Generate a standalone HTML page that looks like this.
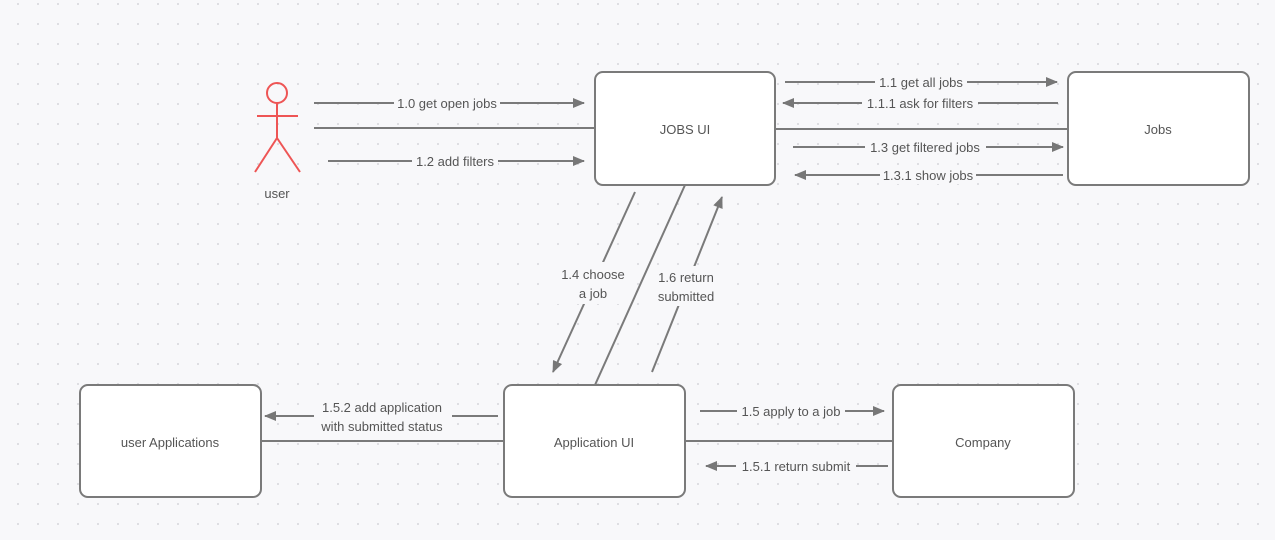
<!DOCTYPE html>
<html><head><meta charset="utf-8"><style>
html,body{margin:0;padding:0;background:#f8f8fa;}
svg{display:block;}
text{font-family:"Liberation Sans",sans-serif;font-size:13px;fill:#555;}
</style></head><body>
<svg width="1275" height="540" viewBox="0 0 1275 540" xmlns="http://www.w3.org/2000/svg">
<defs>
<pattern id="dots" x="8" y="-6" width="20" height="20" patternUnits="userSpaceOnUse">
<circle cx="10" cy="10" r="1" fill="#d6d6da"/>
</pattern>
<marker id="ar" markerWidth="12" markerHeight="10" refX="11" refY="5" orient="auto" markerUnits="userSpaceOnUse" viewBox="0 0 12 10">
<path d="M0,0 L12,5 L0,10 z" fill="#777"/>
</marker>
</defs>
<rect width="1275" height="540" fill="#f8f8fa"/>
<rect width="1275" height="540" fill="url(#dots)"/>
<g stroke="#7a7a7a" stroke-width="2" fill="#fff">
<rect x="595" y="72" width="180" height="113" rx="8"/>
<rect x="1068" y="72" width="181" height="113" rx="8"/>
<rect x="80" y="385" width="181" height="112" rx="8"/>
<rect x="504" y="385" width="181" height="112" rx="8"/>
<rect x="893" y="385" width="181" height="112" rx="8"/>
</g>
<g stroke="#7a7a7a" stroke-width="2" fill="none">
<line x1="314" y1="103" x2="584" y2="103" marker-end="url(#ar)"/>
<line x1="314" y1="128" x2="595" y2="128"/>
<line x1="328" y1="161" x2="584" y2="161" marker-end="url(#ar)"/>
<line x1="785" y1="82" x2="1057" y2="82" marker-end="url(#ar)"/>
<line x1="1058" y1="103" x2="783" y2="103" marker-end="url(#ar)"/>
<line x1="775" y1="129" x2="1068" y2="129"/>
<line x1="793" y1="147" x2="1063" y2="147" marker-end="url(#ar)"/>
<line x1="1063" y1="175" x2="795" y2="175" marker-end="url(#ar)"/>
<line x1="635" y1="192" x2="553" y2="372" marker-end="url(#ar)"/>
<line x1="652" y1="372" x2="722" y2="197" marker-end="url(#ar)"/>
<line x1="498" y1="416" x2="265" y2="416" marker-end="url(#ar)"/>
<line x1="261" y1="441" x2="504" y2="441"/>
<line x1="700" y1="411" x2="884" y2="411" marker-end="url(#ar)"/>
<line x1="685" y1="441" x2="893" y2="441"/>
<line x1="888" y1="466" x2="706" y2="466" marker-end="url(#ar)"/>
</g>
<g fill="#f8f8fa">
<rect x="394" y="94" width="106" height="18"/>
<rect x="412" y="152" width="86" height="18"/>
<rect x="875" y="73" width="92" height="18"/>
<rect x="862" y="94" width="116" height="18"/>
<rect x="865" y="138" width="121" height="18"/>
<rect x="880" y="166" width="96" height="18"/>
<rect x="556" y="262" width="72" height="42"/>
<rect x="654" y="266" width="66" height="40"/>
<rect x="314" y="398" width="138" height="38"/>
<rect x="737" y="402" width="108" height="18"/>
<rect x="736" y="457" width="120" height="18"/>
</g>
<line x1="685" y1="185" x2="595" y2="385" stroke="#7a7a7a" stroke-width="2"/>
<g stroke="#ee5555" stroke-width="2" fill="none">
<circle cx="277" cy="93" r="10"/>
<line x1="277" y1="103" x2="277" y2="138"/>
<line x1="257" y1="116" x2="298" y2="116"/>
<line x1="277" y1="138" x2="255" y2="172"/>
<line x1="277" y1="138" x2="300" y2="172"/>
</g>
<text x="277" y="198" text-anchor="middle">user</text>
<text x="447" y="108" text-anchor="middle">1.0 get open jobs</text>
<text x="455" y="166" text-anchor="middle">1.2 add filters</text>
<text x="921" y="87" text-anchor="middle">1.1 get all jobs</text>
<text x="920" y="108" text-anchor="middle">1.1.1 ask for filters</text>
<text x="925" y="152" text-anchor="middle">1.3 get filtered jobs</text>
<text x="928" y="180" text-anchor="middle">1.3.1 show jobs</text>
<text x="593" y="279" text-anchor="middle">1.4 choose</text>
<text x="593" y="298" text-anchor="middle">a job</text>
<text x="686" y="282" text-anchor="middle">1.6 return</text>
<text x="686" y="301" text-anchor="middle">submitted</text>
<text x="382" y="412" text-anchor="middle">1.5.2 add application</text>
<text x="382" y="431" text-anchor="middle">with submitted status</text>
<text x="791" y="416" text-anchor="middle">1.5 apply to a job</text>
<text x="796" y="471" text-anchor="middle">1.5.1 return submit</text>
<text x="685" y="134" text-anchor="middle">JOBS UI</text>
<text x="1158" y="134" text-anchor="middle">Jobs</text>
<text x="170" y="447" text-anchor="middle">user Applications</text>
<text x="594" y="447" text-anchor="middle">Application UI</text>
<text x="983" y="447" text-anchor="middle">Company</text>
</svg>
</body></html>
